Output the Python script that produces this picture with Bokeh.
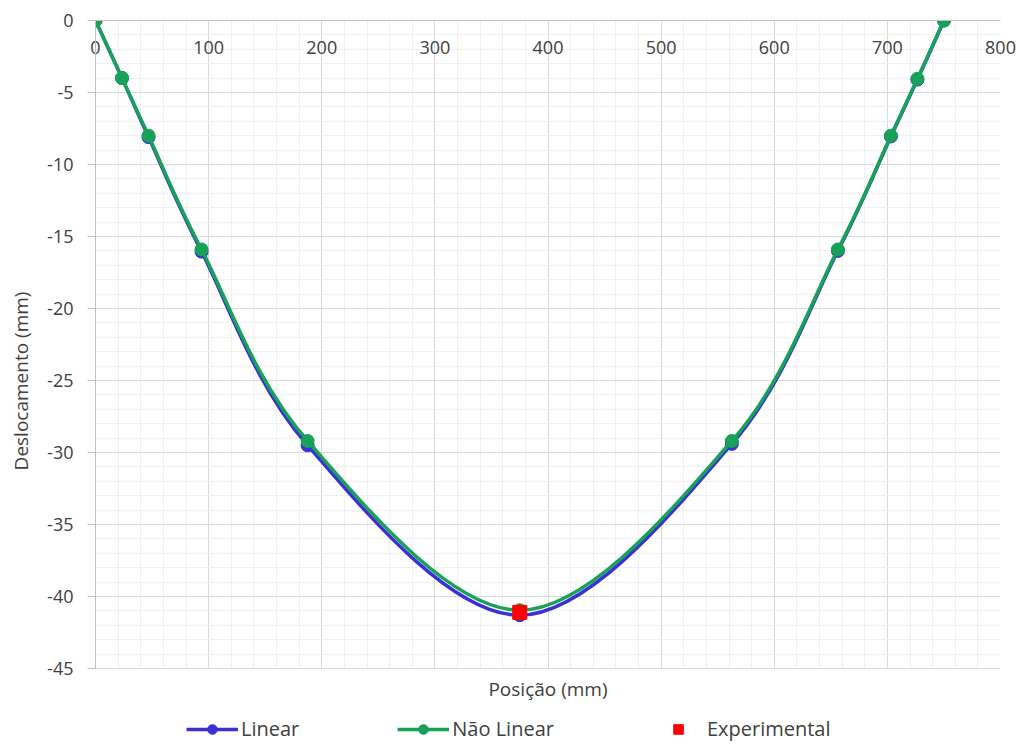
from bokeh.plotting import figure
from bokeh.models import (Range1d, LinearAxis, SingleIntervalTicker, FixedTicker,
                          Legend, LegendItem, Label)
from bokeh.embed import file_html
from bokeh.resources import INLINE

# ---- data ----
posicao = [0, 23.4375, 46.875, 93.75, 187.5, 375, 562.5, 656.25, 703.125, 726.5625, 750]
linear = [0, -4.0, -8.1, -16.05, -29.5, -41.3, -29.4, -16.0, -8.05, -4.1, 0]
nao_linear = [0, -4.0, -8.0, -15.9, -29.2, -40.95, -29.2, -15.9, -8.0, -4.05, 0]
exp_pos = [375]
exp_val = [-41.1]

x_ticks = [0, 100, 200, 300, 400, 500, 600, 700, 800]
y_ticks = [0, -5, -10, -15, -20, -25, -30, -35, -40, -45]
X_MIN, X_MAX, Y_MIN, Y_MAX = 0, 800, -45, 0

FONT = "Open Sans"
TXT = "#404040"
BLUE = "#3B2FD6"
GREEN = "#17A257"
RED = "#FF0000"

# layout (pixels): plot area from top=20 to y=-45 at 668; frame continues to 741
W, H = 1016, 741
TOP, AREA_BOTTOM = 20, 668
px_per_unit = (AREA_BOTTOM - TOP) / (Y_MAX - Y_MIN)
y_frame_bottom = Y_MAX - (H - TOP) / px_per_unit
y_title = Y_MIN - 20 / px_per_unit


def smooth_segments(xs, ys):
    """Control points for a smoothed (Catmull-Rom style) line through the data."""
    n = len(xs)
    x0, y0, x1, y1, cx0, cy0, cx1, cy1 = [], [], [], [], [], [], [], []
    for i in range(n - 1):
        xp, yp = (xs[i - 1], ys[i - 1]) if i > 0 else (xs[i], ys[i])
        xn, yn = (xs[i + 2], ys[i + 2]) if i + 2 < n else (xs[i + 1], ys[i + 1])
        x0.append(xs[i]); y0.append(ys[i])
        x1.append(xs[i + 1]); y1.append(ys[i + 1])
        cx0.append(xs[i] + (xs[i + 1] - xp) / 6.0)
        cy0.append(ys[i] + (ys[i + 1] - yp) / 6.0)
        cx1.append(xs[i + 1] - (xn - xs[i]) / 6.0)
        cy1.append(ys[i + 1] - (yn - ys[i]) / 6.0)
    return dict(x0=x0, y0=y0, x1=x1, y1=y1, cx0=cx0, cy0=cy0, cx1=cx1, cy1=cy1)


p = figure(width=W, height=H, output_backend="svg", toolbar_location=None,
           x_range=Range1d(X_MIN, X_MAX), y_range=Range1d(y_frame_bottom, Y_MAX),
           min_border_left=95, min_border_right=16, min_border_top=TOP,
           min_border_bottom=0)
p.outline_line_color = None
p.background_fill_color = "white"
p.border_fill_color = "white"

# grids, limited to the plot area
p.xgrid.ticker = SingleIntervalTicker(interval=100, num_minor_ticks=5)
p.ygrid.ticker = SingleIntervalTicker(interval=5, num_minor_ticks=5)
for g in (p.xgrid, p.ygrid):
    g.grid_line_color = "#D9D9D9"
    g.grid_line_width = 1
    g.minor_grid_line_color = "#F0F0F0"
    g.minor_grid_line_width = 1
p.ygrid.bounds = (Y_MIN, Y_MAX)
xg = p.xgrid[0]
has_cross = "cross_bounds" in xg.properties()
if has_cross:
    xg.cross_bounds = (Y_MIN, Y_MAX)
else:
    # cover vertical grid lines below the plot area
    p.quad(left=[X_MIN], right=[X_MAX], bottom=[y_frame_bottom], top=[Y_MIN - 0.04],
           fill_color="white", line_color=None)

p.xaxis.visible = False

# axis at y = 0 (top edge) with labels hanging below the line
xa = LinearAxis(ticker=FixedTicker(ticks=x_ticks))
xa.axis_line_color = "#BFBFBF"
xa.major_tick_line_color = None
xa.minor_tick_line_color = None
xa.major_label_standoff = -39
xa.major_label_text_font = FONT
xa.major_label_text_font_size = "18px"
xa.major_label_text_color = TXT
p.add_layout(xa, "above")

# y axis
p.yaxis.ticker = FixedTicker(ticks=y_ticks)
p.yaxis.bounds = (Y_MIN, Y_MAX)
p.yaxis.major_label_overrides = {v: str(v) for v in y_ticks}
p.yaxis.axis_line_color = "#BFBFBF"
p.yaxis.major_tick_line_color = "#BFBFBF"
p.yaxis.major_tick_out = 8
p.yaxis.major_tick_in = 0
p.yaxis.minor_tick_line_color = None
p.yaxis.major_label_standoff = 14
p.yaxis.major_label_text_font = FONT
p.yaxis.major_label_text_font_size = "18px"
p.yaxis.major_label_text_color = TXT
p.yaxis.axis_label = "Deslocamento (mm)"
p.yaxis.axis_label_text_font = FONT
p.yaxis.axis_label_text_font_style = "normal"
p.yaxis.axis_label_text_font_size = "19px"
p.yaxis.axis_label_text_color = TXT
p.yaxis.axis_label_standoff = 10

# x axis title under the plot area
p.add_layout(Label(x=(X_MIN + X_MAX) / 2, y=y_title, text="Posição (mm)",
                   text_align="center", text_baseline="middle",
                   text_font=FONT, text_font_size="19px", text_color=TXT))

# series
lin_seg = smooth_segments(posicao, linear)
nl_seg = smooth_segments(posicao, nao_linear)

r_lin_line = p.bezier(source=lin_seg, x0="x0", y0="y0", x1="x1", y1="y1",
                      cx0="cx0", cy0="cy0", cx1="cx1", cy1="cy1",
                      line_color=BLUE, line_width=3.5)
r_lin_pts = p.scatter(posicao, linear, marker="circle", size=13,
                      fill_color=BLUE, line_color=BLUE)
r_nl_line = p.bezier(source=nl_seg, x0="x0", y0="y0", x1="x1", y1="y1",
                     cx0="cx0", cy0="cy0", cx1="cx1", cy1="cy1",
                     line_color=GREEN, line_width=3.5)
r_nl_pts = p.scatter(posicao, nao_linear, marker="circle", size=13,
                     fill_color=GREEN, line_color=GREEN)
r_exp = p.scatter(exp_pos, exp_val, marker="square", size=14,
                  fill_color=RED, line_color=RED)

legend = Legend(items=[
    LegendItem(label="Linear", renderers=[r_lin_line, r_lin_pts]),
    LegendItem(label="Não Linear", renderers=[r_nl_line, r_nl_pts]),
    LegendItem(label="Experimental", renderers=[r_exp]),
], orientation="horizontal", location=(91, -1))
legend.label_text_font = FONT
legend.label_text_font_size = "20px"
legend.label_text_color = TXT
legend.label_standoff = 3
legend.glyph_width = 52
legend.glyph_height = 24
legend.label_height = 20
legend.spacing = 98
legend.padding = 2
legend.margin = 0
legend.border_line_color = None
legend.background_fill_alpha = 0
p.add_layout(legend, "center")

open("out.html", "w").write(file_html(p, INLINE))
